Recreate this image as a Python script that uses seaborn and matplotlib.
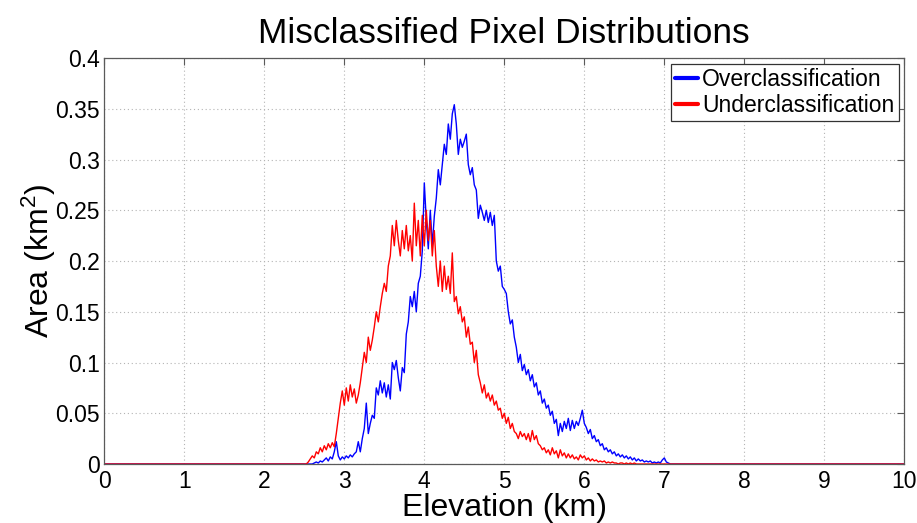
import numpy as np
import pandas as pd
import matplotlib
matplotlib.use("Agg")
import matplotlib.pyplot as plt
import seaborn as sns

# ---- data ----
x_start = 2.5
x_step = 0.025
over_vals = [
    0, 0, 0, 0, 0, 0.001, 0.002, 0.001, 0.003, 0.002,
    0.004, 0.006, 0.003, 0.007, 0.005, 0.012, 0.022, 0.008, 0.004, 0.007,
    0.005, 0.008, 0.006, 0.009, 0.007, 0.010, 0.012, 0.022, 0.012, 0.025,
    0.035, 0.060, 0.030, 0.040, 0.048, 0.045, 0.075, 0.068, 0.082, 0.070,
    0.080, 0.066, 0.078, 0.064, 0.100, 0.093, 0.102, 0.085, 0.072, 0.095,
    0.090, 0.128, 0.140, 0.165, 0.155, 0.170, 0.150, 0.178, 0.185, 0.210,
    0.277, 0.240, 0.212, 0.250, 0.215, 0.244, 0.262, 0.290, 0.275, 0.295,
    0.315, 0.305, 0.335, 0.320, 0.345, 0.354, 0.335, 0.305, 0.320, 0.312,
    0.318, 0.325, 0.295, 0.285, 0.292, 0.275, 0.270, 0.242, 0.255, 0.248,
    0.240, 0.250, 0.238, 0.248, 0.235, 0.245, 0.200, 0.190, 0.195, 0.175,
    0.172, 0.168, 0.150, 0.138, 0.142, 0.125, 0.115, 0.100, 0.108, 0.092,
    0.098, 0.088, 0.093, 0.082, 0.088, 0.076, 0.080, 0.068, 0.072, 0.060,
    0.064, 0.055, 0.058, 0.048, 0.052, 0.040, 0.044, 0.028, 0.040, 0.032,
    0.042, 0.035, 0.045, 0.033, 0.043, 0.035, 0.042, 0.038, 0.045, 0.053,
    0.040, 0.036, 0.030, 0.034, 0.025, 0.028, 0.022, 0.024, 0.018, 0.020,
    0.014, 0.016, 0.012, 0.014, 0.010, 0.012, 0.008, 0.010, 0.007, 0.009,
    0.006, 0.008, 0.005, 0.007, 0.004, 0.006, 0.003, 0.005, 0.003, 0.004,
    0.002, 0.003, 0.002, 0.003, 0.001, 0.002, 0.001, 0.002, 0.001, 0.004,
    0.006, 0.002, 0.001, 0.000, 0.000,
]
under_vals = [
    0, 0, 0.002, 0.005, 0.008, 0.006, 0.012, 0.010, 0.016, 0.012,
    0.018, 0.014, 0.020, 0.016, 0.021, 0.017, 0.030, 0.045, 0.060, 0.072,
    0.058, 0.075, 0.062, 0.078, 0.066, 0.074, 0.060, 0.068, 0.080, 0.095,
    0.110, 0.100, 0.125, 0.112, 0.122, 0.135, 0.150, 0.140, 0.155, 0.168,
    0.178, 0.170, 0.195, 0.205, 0.235, 0.215, 0.240, 0.220, 0.205, 0.230,
    0.212, 0.235, 0.210, 0.225, 0.200, 0.257, 0.215, 0.240, 0.205, 0.245,
    0.215, 0.250, 0.220, 0.240, 0.205, 0.230, 0.195, 0.175, 0.200, 0.170,
    0.195, 0.172, 0.185, 0.168, 0.208, 0.160, 0.165, 0.148, 0.155, 0.140,
    0.145, 0.125, 0.135, 0.118, 0.120, 0.100, 0.112, 0.088, 0.080, 0.070,
    0.078, 0.065, 0.070, 0.062, 0.068, 0.058, 0.062, 0.053, 0.055, 0.045,
    0.050, 0.040, 0.046, 0.035, 0.040, 0.032, 0.030, 0.025, 0.032, 0.027,
    0.030, 0.024, 0.030, 0.022, 0.033, 0.024, 0.028, 0.020, 0.018, 0.014,
    0.016, 0.011, 0.014, 0.009, 0.016, 0.010, 0.013, 0.006, 0.014, 0.008,
    0.011, 0.006, 0.010, 0.006, 0.009, 0.005, 0.007, 0.004, 0.009, 0.006,
    0.008, 0.004, 0.006, 0.003, 0.005, 0.003, 0.004, 0.002, 0.003, 0.002,
    0.003, 0.001, 0.002, 0.001, 0.002, 0.001, 0.001, 0.000, 0.001, 0.001,
    0.000, 0.001, 0.000, 0.001, 0.000, 0.001, 0.000, 0.000, 0.000, 0.000,
    0, 0, 0, 0, 0, 0, 0, 0, 0, 0,
    0, 0, 0, 0, 0,
]
x_min, x_max = 0.0, 10.0
series_names = ["Overclassification", "Underclassification"]
series_colors = ["#0000ff", "#ff0000"]
x_ticks = [0, 1, 2, 3, 4, 5, 6, 7, 8, 9, 10]
y_ticks = [0, 0.05, 0.1, 0.15, 0.2, 0.25, 0.3, 0.35, 0.4]
y_tick_labels = ["0", "0.05", "0.1", "0.15", "0.2", "0.25", "0.3", "0.35", "0.4"]

# ---- build long-form table ----
rows = []
for name, vals in zip(series_names, [over_vals, under_vals]):
    xs = [x_min] + [round(x_start + i * x_step, 4) for i in range(len(vals))] + [x_max]
    ys = [0.0] + list(vals) + [0.0]
    for xv, yv in zip(xs, ys):
        rows.append({"Elevation": xv, "Area": yv, "Series": name})
df = pd.DataFrame(rows)

sns.set_theme(style="white")
plt.rcParams["font.family"] = ["Liberation Sans", "DejaVu Sans"]
plt.rcParams["text.color"] = "black"
plt.rcParams["axes.labelcolor"] = "black"
plt.rcParams["xtick.color"] = "black"
plt.rcParams["ytick.color"] = "black"
plt.rcParams["mathtext.fontset"] = "custom"
plt.rcParams["mathtext.rm"] = "Liberation Sans"
plt.rcParams["mathtext.it"] = "Liberation Sans"

fig = plt.figure(figsize=(9.17, 5.23), dpi=100)
ax = fig.add_axes([0.1137, 0.1128, 0.8725, 0.7763])

sns.lineplot(data=df, x="Elevation", y="Area", hue="Series",
             hue_order=series_names, palette=series_colors,
             estimator=None, sort=True, linewidth=1.0, ax=ax, legend=True)

ax.set_xlim(x_min, x_max)
ax.set_ylim(0, 0.4)
ax.set_xticks(x_ticks)
ax.set_yticks(y_ticks)
ax.set_yticklabels(y_tick_labels)

ax.grid(True, color="#b4b4b4", linestyle=(0, (1, 2.5)), linewidth=0.8)
ax.set_axisbelow(True)
for s in ax.spines.values():
    s.set_visible(True)
    s.set_color("#5a5a5a")
    s.set_linewidth(0.9)

ax.tick_params(axis="both", which="both", direction="in", length=5,
               width=0.8, color="#5a5a5a", top=True, right=True,
               labelsize=16.5, labelcolor="black")
ax.tick_params(axis="y", pad=3)
ax.tick_params(axis="x", pad=4)

ax.set_xlabel("Elevation (km)", fontsize=23, labelpad=0, color="black")
ax.set_ylabel(r"Area (km$^\mathregular{2}$)", fontsize=23, labelpad=-1.5, color="black")
ax.set_title("Misclassified Pixel Distributions", fontsize=25.5, pad=11, color="black")

leg = ax.legend(loc="upper right", fontsize=16.5, frameon=True, fancybox=False,
                framealpha=1, edgecolor="#333333", handlelength=1.0,
                handletextpad=0.15, borderpad=0.2, labelspacing=0.1,
                borderaxespad=0.25)
leg.get_frame().set_linewidth(0.9)
for t in leg.get_texts():
    t.set_color("black")
for h in leg.get_lines():
    h.set_linewidth(3)

fig.savefig("out.png", dpi=100, facecolor="white")
